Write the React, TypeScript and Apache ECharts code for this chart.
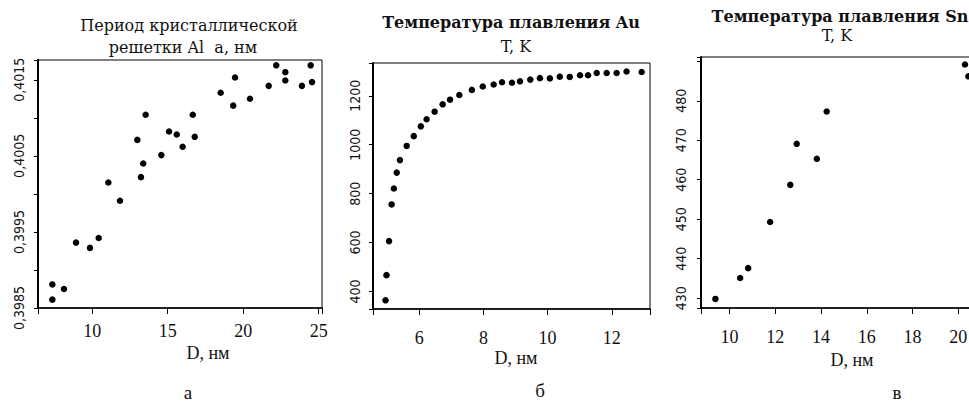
import React, { useEffect, useRef } from "react";
import * as echarts from "echarts";

// Panel а: lattice period of Al vs D
const aD = [7.36, 7.36, 8.13, 8.93, 9.85, 10.43, 11.07, 11.84, 12.99, 13.23, 13.38, 13.54, 14.58, 15.09, 15.6, 15.99, 16.66, 16.79, 18.51, 19.34, 19.46, 20.45, 21.69, 22.19, 22.79, 22.79, 23.89, 24.47, 24.56];
const aPeriod = [0.39861, 0.39881, 0.39875, 0.39936, 0.39929, 0.39942, 0.40015, 0.39991, 0.40071, 0.40022, 0.4004, 0.40104, 0.40051, 0.40082, 0.40078, 0.40062, 0.40104, 0.40075, 0.40133, 0.40116, 0.40153, 0.40125, 0.40142, 0.40169, 0.4016, 0.40149, 0.40142, 0.40169, 0.40147];

// Panel б: melting temperature of Au vs D
const bD = [4.95, 4.98, 5.06, 5.14, 5.21, 5.3, 5.4, 5.61, 5.83, 6.05, 6.23, 6.48, 6.73, 6.96, 7.25, 7.64, 7.98, 8.32, 8.58, 8.89, 9.14, 9.46, 9.76, 10.07, 10.38, 10.69, 11.01, 11.26, 11.53, 11.84, 12.15, 12.46, 12.93];
const bT = [364, 467, 606, 756, 821, 886, 937, 995, 1035, 1075, 1104, 1135, 1165, 1184, 1203, 1224, 1238, 1246, 1255, 1253, 1259, 1266, 1272, 1271, 1278, 1277, 1284, 1284, 1293, 1293, 1293, 1299, 1297];

// Panel в: melting temperature of Sn vs D
const cD = [9.39, 10.47, 10.82, 11.78, 12.66, 12.94, 13.82, 14.25, 20.29, 20.44];
const cT = [429.8, 435.1, 437.6, 449.3, 458.7, 469.1, 465.3, 477.3, 489.2, 486.2];

const titleLines = [
  { text: "Период кристаллической", x: 189, y: 25, bold: false },
  { text: "решетки Al  а, нм", x: 183, y: 47, bold: false },
  { text: "Температура плавления Au", x: 511, y: 22, bold: true },
  { text: "T, K", x: 516, y: 46, bold: false },
  { text: "Температура плавления Sn", x: 840, y: 16, bold: true },
  { text: "T, K", x: 837, y: 35, bold: false },
];
const axisNames = [
  { text: "D, нм", x: 208, y: 353 },
  { text: "D, нм", x: 516, y: 358 },
  { text: "D, нм", x: 852, y: 360 },
];
const panelLetters = [
  { text: "а", x: 188, y: 392 },
  { text: "б", x: 540, y: 390 },
  { text: "в", x: 897, y: 392 },
];

const isMult = (v: number, step: number) => Math.abs(v / step - Math.round(v / step)) < 1e-6;

export default function App() {
  const ref = useRef<HTMLDivElement>(null);
  useEffect(() => {
    if (!ref.current) return;
    const chart = echarts.init(ref.current, undefined, { renderer: "svg" });
    const serif = "'Liberation Serif', 'Times New Roman', serif";
    const narrow = "'Liberation Sans Narrow', 'DejaVu Sans Condensed', 'Liberation Sans', sans-serif";
    const xLabel = (margin: number, step: number) => ({
      fontFamily: serif,
      fontSize: 18,
      color: "#111",
      margin,
      formatter: (v: number) => (isMult(v, step) ? String(Math.round(v)) : ""),
    });
    const xCommon = {
      type: "value" as const,
      axisLine: { show: true, onZero: false, lineStyle: { color: "#000", width: 1.5 } },
      axisTick: { show: true, inside: false, length: 6, lineStyle: { color: "#000" } },
      splitLine: { show: false },
    };
    const yCommon = {
      type: "value" as const,
      axisLine: { show: true, onZero: false, lineStyle: { color: "#000", width: 2 } },
      axisTick: { show: true, inside: false, length: 4, lineStyle: { color: "#000" } },
      splitLine: { show: false },
    };
    const yLabelStyle = { fontFamily: narrow, fontSize: 14, color: "#111", rotate: 90 };
    const gridCommon = { show: true, borderColor: "#000", borderWidth: 1, backgroundColor: "transparent" };
    const dot = { color: "#000", opacity: 1 };
    const txt = (t: { text: string; x: number; y: number }, font: string) => ({
      type: "text",
      x: t.x,
      y: t.y,
      style: { text: t.text, font, fill: "#111", textAlign: "center", textVerticalAlign: "middle" },
    });
    const option: any = {
      animation: false,
      backgroundColor: "#fff",
      grid: [
        { ...gridCommon, left: 38, top: 60, width: 284, height: 248 },
        { ...gridCommon, left: 373, top: 63, width: 277, height: 246 },
        { ...gridCommon, left: 701, top: 57, width: 280, height: 251 },
      ],
      xAxis: [
        { ...xCommon, gridIndex: 0, min: 6.41, max: 25.22, splitNumber: 4, axisLabel: xLabel(14, 5) },
        { ...xCommon, gridIndex: 1, min: 4.56, max: 13.19, splitNumber: 4, axisLabel: xLabel(20, 2) },
        { ...xCommon, gridIndex: 2, min: 8.76, max: 20.99, splitNumber: 6, axisLabel: xLabel(20, 2) },
      ],
      yAxis: [
        {
          ...yCommon,
          gridIndex: 0,
          min: 0.3985,
          max: 0.40176,
          splitNumber: 6,
          axisLabel: {
            ...yLabelStyle,
            margin: 12,
            showMinLabel: true,
            formatter: (v: number) => {
              const k = Math.round(v * 2000);
              if (!isMult(v, 0.0005) || k % 2 === 0) return "";
              return v.toFixed(4).replace(".", ",");
            },
          },
        },
        {
          ...yCommon,
          gridIndex: 1,
          min: 328.6,
          max: 1333.9,
          splitNumber: 5,
          axisLabel: { ...yLabelStyle, margin: 11, formatter: (v: number) => (isMult(v, 200) ? String(Math.round(v)) : "") },
        },
        {
          ...yCommon,
          gridIndex: 2,
          min: 427.5,
          max: 491.1,
          splitNumber: 6,
          axisLabel: {
            ...yLabelStyle,
            margin: 13,
            formatter: (v: number) => (isMult(v, 10) && v < 489 ? String(Math.round(v)) : ""),
          },
        },
      ],
      series: [
        { type: "scatter", xAxisIndex: 0, yAxisIndex: 0, symbolSize: 6.5, itemStyle: dot, data: aD.map((d, i) => [d, aPeriod[i]]) },
        { type: "scatter", xAxisIndex: 1, yAxisIndex: 1, symbolSize: 6.5, itemStyle: dot, data: bD.map((d, i) => [d, bT[i]]) },
        { type: "scatter", xAxisIndex: 2, yAxisIndex: 2, symbolSize: 6.5, itemStyle: dot, data: cD.map((d, i) => [d, cT[i]]) },
      ],
      graphic: [
        ...titleLines.map((t) => txt(t, `${t.bold ? "bold " : ""}16px 'DejaVu Serif', serif`)),
        ...axisNames.map((t) => txt(t, `18px ${serif}`)),
        ...panelLetters.map((t) => txt(t, `19px ${serif}`)),
      ],
    };
    chart.setOption(option);
    return () => chart.dispose();
  }, []);
  return (
    <div style={{ position: "fixed", left: 0, top: 0, width: 969, height: 404, overflow: "hidden", background: "#fff" }}>
      <div ref={ref} style={{ width: 990, height: 404 }} />
    </div>
  );
}
